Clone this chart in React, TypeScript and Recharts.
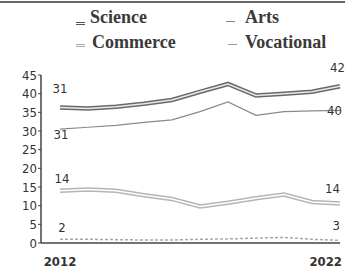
import { Line, LineChart, XAxis, YAxis } from "recharts";

const YEARS = [2012, 2013, 2014, 2015, 2016, 2017, 2018, 2019, 2020, 2021, 2022];
const SCIENCE = [36.3, 36, 36.5, 37.3, 38.3, 40.5, 42.6, 39.5, 40, 40.5, 42];
const ARTS = [30.5, 31, 31.5, 32.3, 33, 35.2, 37.8, 34.2, 35.2, 35.4, 35.5];
const COMMERCE = [14, 14.3, 14, 12.8, 11.8, 9.8, 10.8, 12, 13, 11, 10.6];
const VOCATIONAL = [1, 1, 0.9, 0.8, 0.8, 1, 1.1, 1.3, 1.5, 1, 0.7];
const Y_TICKS = [0, 5, 10, 15, 20, 25, 30, 35, 40, 45];
const YEAR_LABELS = [2012, 2022];

// start / end annotations as printed
const START_LABELS = { science: "31", arts: "31", commerce: "14", vocational: "2" };
const END_LABELS = { science: "42", arts: "40", commerce: "14", vocational: "3" };

const data = YEARS.map((year, i) => ({
  year,
  science: SCIENCE[i],
  arts: ARTS[i],
  commerce: COMMERCE[i],
  vocational: VOCATIONAL[i],
}));

const NUM_FONT = "'DejaVu Sans Condensed', 'Liberation Sans Narrow', 'DejaVu Sans', sans-serif";
const INK = "#333";

// label placement relative to the end points
const LABEL_POS: Record<string, { s: [number, number, string]; e: [number, number, string] }> = {
  science: { s: [0, -14, "middle"], e: [5, -14, "end"] },
  arts: { s: [1, 10, "middle"], e: [-13, 5, "start"] },
  commerce: { s: [2, -8, "middle"], e: [0, -10, "end"] },
  vocational: { s: [2, -7, "middle"], e: [0, -10, "end"] },
};

function endLabel(key: keyof typeof START_LABELS) {
  return (props: any) => {
    const { x, y, index } = props;
    const last = YEARS.length - 1;
    if (index !== 0 && index !== last) return null;
    const [dx, dy, anchor] = index === 0 ? LABEL_POS[key].s : LABEL_POS[key].e;
    const text = index === 0 ? START_LABELS[key] : END_LABELS[key];
    return (
      <text
        key={`${key}-${index}`}
        x={x + dx}
        y={y + dy}
        textAnchor={anchor}
        fontSize={13}
        fontFamily={NUM_FONT}
        style={{ fill: INK }}
      >
        {text}
      </text>
    );
  };
}

function YearTick(props: any) {
  const { x, y, payload } = props;
  if (!YEAR_LABELS.includes(payload.value)) return null;
  const first = payload.value === YEAR_LABELS[0];
  return (
    <text
      x={first ? x : x + 2}
      y={y + 15}
      textAnchor={first ? "middle" : "end"}
      fontSize={13}
      fontWeight="bold"
      fontFamily={NUM_FONT}
      style={{ fill: INK }}
    >
      {payload.value}
    </text>
  );
}

const legendText: React.CSSProperties = {
  position: "absolute",
  fontFamily: "'Liberation Serif', serif",
  fontSize: 18,
  fontWeight: "bold",
  color: "#3a3a3a",
  lineHeight: "18px",
  whiteSpace: "nowrap",
};

function Mark({ left, top, color, double }: { left: number; top: number; color: string; double?: boolean }) {
  return (
    <div style={{ position: "absolute", left, top, width: 9 }}>
      <div style={{ height: 1, background: color }} />
      {double && <div style={{ height: 1, marginTop: 1, background: color }} />}
    </div>
  );
}

export default function App() {
  return (
    <div style={{ position: "absolute", left: 0, top: 0, width: 345, height: 271, background: "#fff" }}>
      <div style={{ position: "absolute", left: 0, top: 1, width: 345, height: 2, background: "#666" }} />
      <Mark left={76} top={22} color="#555" double />
      <div style={{ ...legendText, left: 90, top: 8 }}>Science</div>
      <Mark left={76} top={44} color="#aaa" double />
      <div style={{ ...legendText, left: 92, top: 33 }}>Commerce</div>
      <Mark left={226} top={21} color="#888" />
      <div style={{ ...legendText, left: 245, top: 8 }}>Arts</div>
      <Mark left={228} top={44} color="#999" />
      <div style={{ ...legendText, left: 245, top: 33 }}>Vocational</div>

      <LineChart width={345} height={271} data={data} margin={{ top: 75, right: 5, left: 0, bottom: 0 }}>
        <XAxis
          dataKey="year"
          padding={{ left: 19, right: 0 }}
          interval={0}
          tick={<YearTick />}
          tickLine={false}
          axisLine={{ stroke: "#444", strokeWidth: 1.5 }}
          height={28}
        />
        <YAxis
          domain={[0, 45]}
          ticks={Y_TICKS}
          interval={0}
          width={41}
          tickSize={3}
          tickMargin={1}
          tickLine={{ stroke: "#444" }}
          axisLine={{ stroke: "#444", strokeWidth: 1.5 }}
          tick={{ fontSize: 13, fontFamily: NUM_FONT, fill: INK }}
        />
        <Line dataKey="science" stroke="#6a6a6a" strokeWidth={4.5} dot={false} isAnimationActive={false} />
        <Line
          dataKey="science"
          stroke="#e8e8e8"
          strokeWidth={1.5}
          dot={false}
          isAnimationActive={false}
          label={endLabel("science")}
        />
        <Line
          dataKey="arts"
          stroke="#8a8a8a"
          strokeWidth={1.2}
          dot={false}
          isAnimationActive={false}
          label={endLabel("arts")}
        />
        <Line dataKey="commerce" stroke="#b5b5b5" strokeWidth={4.5} dot={false} isAnimationActive={false} />
        <Line
          dataKey="commerce"
          stroke="#fff"
          strokeWidth={1.5}
          dot={false}
          isAnimationActive={false}
          label={endLabel("commerce")}
        />
        <Line
          dataKey="vocational"
          stroke="#a8a8a8"
          strokeWidth={1.5}
          strokeDasharray="3 2"
          dot={false}
          isAnimationActive={false}
          label={endLabel("vocational")}
        />
      </LineChart>
    </div>
  );
}
